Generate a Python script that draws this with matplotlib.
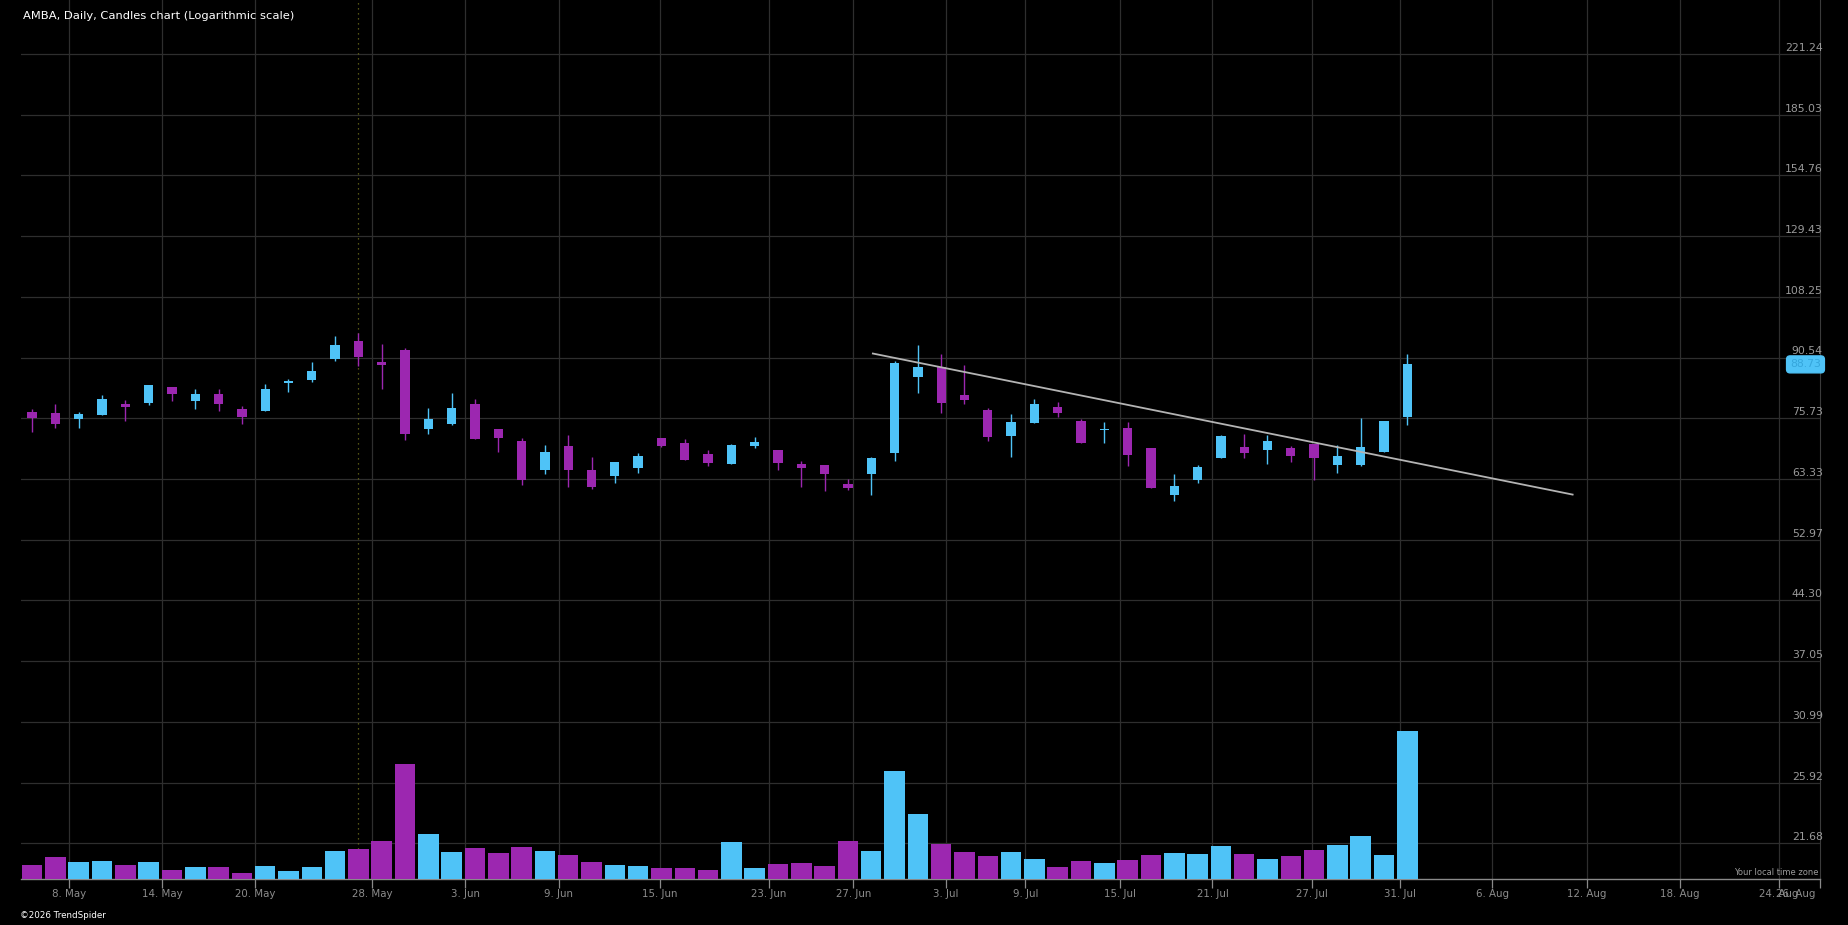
import numpy as np
import matplotlib
matplotlib.use("Agg")
import matplotlib.pyplot as plt
import matplotlib.transforms as mtrans
from matplotlib.ticker import NullLocator

# daily candles, one per trading day
opens = [77.08, 76.85, 75.51, 76.40, 78.92, 79.15, 82.97, 79.62, 81.27, 77.76,
         77.31, 83.95, 84.69, 90.10, 95.00, 89.30, 92.52, 73.32, 74.40, 78.92,
         73.32, 70.77, 64.98, 69.74, 64.98, 63.84, 65.36, 71.40, 70.36, 68.11,
         66.14, 69.74, 68.92, 66.14, 65.94, 62.35, 64.22, 68.31, 85.45, 88.00,
         81.04, 77.53, 71.82, 74.62, 78.22, 75.06, 73.10, 73.53, 69.33, 60.37,
         63.09, 67.32, 69.53, 68.92, 69.33, 70.15, 65.94, 65.94, 68.52, 75.95]
highs = [77.76, 78.92, 77.08, 81.04, 79.85, 83.46, 82.97, 82.48, 82.48, 78.45,
         83.70, 84.94, 89.30, 96.41, 97.27, 94.17, 93.06, 77.99, 81.51, 80.09,
         73.32, 71.40, 69.94, 72.03, 67.51, 66.53, 68.31, 71.40, 71.19, 68.92,
         70.15, 71.61, 68.92, 66.72, 65.94, 63.28, 67.51, 89.57, 93.89, 91.43,
         88.52, 77.99, 76.63, 80.09, 79.38, 75.51, 74.84, 74.84, 69.33, 64.22,
         65.94, 72.03, 72.24, 72.03, 69.74, 70.15, 69.94, 75.73, 75.06, 91.43]
lows = [72.67, 73.53, 73.53, 76.40, 75.06, 78.68, 79.62, 77.76, 77.31, 74.40,
        77.31, 81.75, 84.20, 89.57, 88.26, 82.48, 70.98, 72.24, 74.18, 71.19,
        68.52, 62.17, 64.22, 61.81, 61.44, 62.54, 64.41, 69.53, 66.92, 65.75,
        66.14, 69.33, 64.98, 61.81, 61.08, 61.26, 60.37, 66.72, 81.51, 76.85,
        78.92, 70.77, 67.51, 74.62, 75.95, 70.36, 70.36, 65.75, 61.62, 59.31,
        62.54, 67.32, 67.32, 66.14, 66.53, 63.09, 64.41, 65.75, 68.52, 74.18]
closes = [75.73, 74.40, 76.63, 80.09, 78.22, 83.46, 81.27, 81.27, 78.92, 75.95,
          82.48, 84.45, 86.97, 93.89, 90.63, 88.52, 72.24, 75.51, 77.99, 71.19,
          71.40, 63.09, 68.52, 64.98, 61.81, 66.53, 67.71, 69.74, 66.92, 66.33,
          69.94, 70.56, 66.33, 65.36, 64.22, 61.62, 67.32, 89.04, 88.00, 79.15,
          79.85, 71.61, 74.84, 78.92, 76.85, 70.36, 73.32, 67.91, 61.62, 61.99,
          65.56, 71.82, 68.31, 70.77, 67.71, 67.32, 67.71, 69.53, 75.06, 88.73]
# volume in thousands of shares
volumes = [420, 660, 510, 540, 420, 510, 270, 360, 360, 180,
           390, 240, 360, 840, 900, 1140, 3450, 1350, 810, 930,
           780, 960, 840, 720, 510, 420, 390, 330, 330, 270,
           1110, 330, 450, 480, 390, 1140, 840, 3240, 1950, 1050,
           810, 690, 810, 600, 360, 540, 480, 570, 720, 780,
           750, 990, 750, 600, 690, 870, 1020, 1290, 720, 4440]

# downward trendline (bar index, price)
trend_x = [36.07, 66.09]
trend_y = [91.61, 60.49]
marker_bar = 14

price_ticks = [21.68, 25.92, 30.99, 37.05, 44.30, 52.97, 63.33, 75.73,
               90.54, 108.25, 129.43, 154.76, 185.03, 221.24]
date_pos = [1.58, 5.57, 9.57, 14.59, 18.59, 22.59, 26.92, 31.61, 35.23, 39.19,
            42.61, 46.66, 50.64, 54.9, 58.67, 62.64, 66.69, 70.68, 74.95]
date_labels = ['8. May', '14. May', '20. May', '28. May', '3. Jun', '9. Jun',
               '15. Jun', '23. Jun', '27. Jun', '3. Jul', '9. Jul', '15. Jul',
               '21. Jul', '27. Jul', '31. Jul', '6. Aug', '12. Aug', '18. Aug',
               '24. Aug']
extra_pos = [75.67]
extra_labels = ['26. Aug']

UP = '#4fc3f7'
DOWN = '#9c27b0'
GRID = '#2e2e2e'

o = np.array(opens)
c = np.array(closes)
x = np.arange(len(o))
colors = [UP if cc >= oo else DOWN for oo, cc in zip(o, c)]

W, H = 1848, 925
fig = plt.figure(figsize=(W / 100, H / 100), dpi=100, facecolor='black')
ax = fig.add_axes([21 / W, 1 - 879.3 / H, (1819.7 - 21) / W, 879.3 / H])
ax.set_facecolor('black')
ax.set_yscale('log')
ax.set_ylim(19.50, 259.25)
ax.set_xlim(-0.476, 76.69)

for v in price_ticks:
    ax.axhline(v, color=GRID, lw=0.9, zorder=0)
for p in date_pos:
    ax.axvline(p, color=GRID, lw=0.9, zorder=0)
ax.axvline(marker_bar, color='#6f6f1c', lw=0.9, ls=(0, (1, 3)), zorder=0.5)

ax.yaxis.set_minor_locator(NullLocator())
ax.set_yticks([])
ax.tick_params(axis='y', left=False, right=False, labelleft=False)

# candles
ax.vlines(x, lows, highs, colors=colors, lw=1.0, zorder=2)
ax.bar(x, np.abs(c - o), bottom=np.minimum(o, c), width=0.4, color=colors,
       linewidth=0, zorder=3)
ax.plot(trend_x, trend_y, color='#b4b4b4', lw=1.3, zorder=4)

tr = mtrans.blended_transform_factory(ax.transAxes, ax.transData)
for v in price_ticks:
    ax.text(1.0017, v * 1.003, f'{v:.2f}', transform=tr, ha='right', va='bottom',
            fontsize=7.8, color='#9a9a9a', clip_on=False)

last = closes[-1]
ax.text(0.9921, last, f'{last:.2f}', transform=tr, ha='center', va='center',
        fontsize=7.8, color='#35a6dc', clip_on=False, zorder=6,
        bbox=dict(boxstyle='round,pad=0.32', fc=UP, ec=UP))

ax.set_xticks(date_pos + [76.69])
ax.set_xticklabels(date_labels + [''])
ax.set_xticks(extra_pos, minor=True)
ax.set_xticklabels(extra_labels, minor=True)
ax.tick_params(axis='x', which='major', colors='#8a8a8a', length=6.3, width=0.9,
               pad=0.5, labelsize=7.4, labelcolor='#8c8c8c')
ax.tick_params(axis='x', which='minor', length=0, pad=6.8, labelsize=7.4,
               labelcolor='#8c8c8c')

for s in ['top', 'left']:
    ax.spines[s].set_visible(False)
ax.spines['right'].set_color('#3a3a3a')
ax.spines['bottom'].set_color('#8a8a8a')
ax.spines['bottom'].set_linewidth(1.0)

ax.text(0.9991, 0.0025, 'Your local time zone', transform=ax.transAxes,
        ha='right', va='bottom', fontsize=6, color='#9a9a9a')

# volume overlay
ax2 = ax.twinx()
ax2.bar(x, volumes, width=0.88, color=colors, linewidth=0)
ax2.set_ylim(0, 26379)
ax2.axis('off')

fig.text(22.7 / W, 1 - 16 / H, 'AMBA, Daily, Candles chart (Logarithmic scale)',
         ha='left', va='center', fontsize=8.25, color='white')
fig.text(20 / W, 1 - 915 / H, '©2026 TrendSpider', ha='left', va='center',
         fontsize=6.3, color='white')

fig.savefig('out.png', dpi=100, facecolor='black')
